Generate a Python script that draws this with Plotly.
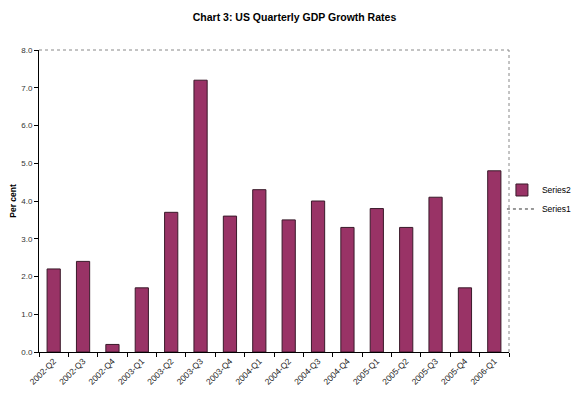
import plotly.graph_objects as go

quarters = ["2002-Q2", "2002-Q3", "2002-Q4", "2003-Q1", "2003-Q2", "2003-Q3", "2003-Q4",
            "2004-Q1", "2004-Q2", "2004-Q3", "2004-Q4", "2005-Q1", "2005-Q2", "2005-Q3",
            "2005-Q4", "2006-Q1"]
series2 = [2.2, 2.4, 0.2, 1.7, 3.7, 7.2, 3.6, 4.3, 3.5, 4.0, 3.3, 3.8, 3.3, 4.1, 1.7, 4.8]
series1 = [None] * len(quarters)
y_ticks = [0, 1, 2, 3, 4, 5, 6, 7, 8]

fig = go.Figure()
fig.add_trace(go.Bar(
    x=quarters, y=series2, name="Series2",
    marker=dict(color="#993366", line=dict(color="#3a1a2a", width=1)),
))
fig.add_trace(go.Scatter(
    x=quarters, y=series1, name="Series1", mode="lines",
    line=dict(color="#333333", width=1, dash="dot"),
))

fig.update_layout(
    width=573, height=391,
    margin=dict(l=31, r=72, t=42, b=47, autoexpand=False),
    paper_bgcolor="white", plot_bgcolor="white",
    font=dict(family="Arial, Liberation Sans, sans-serif", size=8, color="#000000"),
    title=dict(text="<b>Chart 3: US Quarterly GDP Growth Rates</b>",
               x=0.5, xanchor="center", y=0.977, yanchor="middle",
               font=dict(size=10.5, color="#000000")),
    bargap=0.55,
    showlegend=True,
    legend=dict(x=0.985, y=0.505, xanchor="left", yanchor="middle",
                font=dict(size=8.5), tracegroupgap=0, itemwidth=30,
                bgcolor="rgba(0,0,0,0)"),
    xaxis=dict(
        type="category", tickson="boundaries", ticks="outside", ticklen=4,
        tickcolor="#000000", showline=True, linecolor="#000000", linewidth=1,
        tickangle=-45, tickfont=dict(size=8.5, color="#222222"), showgrid=False,
        automargin=False,
    ),
    yaxis=dict(
        range=[0, 8], tickvals=y_ticks, tickformat=".1f", ticks="outside", ticklen=4,
        tickcolor="#000000", showline=True, linecolor="#000000", linewidth=1,
        showgrid=False, zeroline=False, tickfont=dict(size=8, color="#333333"),
        title=dict(text="<b>Per cent</b>", font=dict(size=8.5), standoff=12),
        automargin=False,
    ),
)

fig.add_shape(type="line", xref="paper", yref="paper", x0=0, x1=1, y0=1, y1=1,
              line=dict(color="#888888", width=1, dash="dot"))
fig.add_shape(type="line", xref="paper", yref="paper", x0=1, x1=1, y0=0, y1=1,
              line=dict(color="#888888", width=1, dash="dot"))

fig.write_html("out.html")
